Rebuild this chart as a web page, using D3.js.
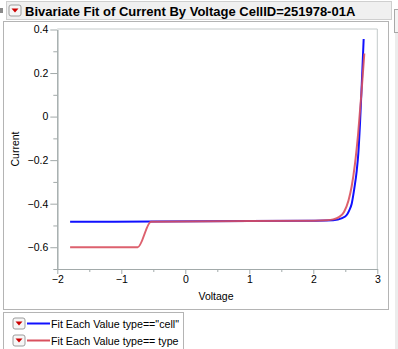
<!DOCTYPE html>
<html><head><meta charset="utf-8">
<script src="https://cdn.jsdelivr.net/npm/d3@7"></script>
<style>
html,body{margin:0;padding:0;background:#fff;overflow:hidden;}
svg{display:block;}
text{font-family:"Liberation Sans",Arial,sans-serif;}
</style></head>
<body>
<svg id="c" width="398" height="349"></svg>
<script>
const title = "Bivariate Fit of Current By Voltage CellID=251978-01A";
const xLabel = "Voltage";
const yLabel = "Current";
const xTicks = [-2, -1, 0, 1, 2, 3];
const xMinorTicks = [-1.5, -0.5, 0.5, 1.5, 2.5];
const yTicks = [-0.6, -0.4, -0.2, 0, 0.2, 0.4];
const yMinorTicks = [-0.7, -0.5, -0.3, -0.1, 0.1, 0.3];
const seriesNames = ['Fit Each Value type=="cell"', 'Fit Each Value type== type'];
const seriesColors = ["#1010ff", "#d9505e"];
// Fit curves: [voltage, current]
const cellFit = [[-1.8,-0.483],[-0.5,-0.482],[1,-0.480],[2,-0.478],[2.31,-0.476],[2.45,-0.466],[2.522,-0.452],[2.56,-0.432],[2.6,-0.400],[2.641,-0.330],[2.678,-0.250],[2.703,-0.171],[2.73,-0.030],[2.756,0.140],[2.787,0.356]];
const typeFit = [[-1.8,-0.600],[-0.744,-0.600],[-0.536,-0.483],[1,-0.480],[2,-0.478],[2.2,-0.476],[2.31,-0.472],[2.4,-0.462],[2.48,-0.438],[2.55,-0.385],[2.6,-0.320],[2.65,-0.220],[2.7,-0.080],[2.75,0.100],[2.797,0.290]];

const svg = d3.select("#c");

// scrollbar-ish strip on the right
svg.append("rect").attr("x",395).attr("y",33).attr("width",4).attr("height",320).attr("fill","#ececec");
svg.append("rect").attr("x",394.5).attr("y",9.5).attr("width",5).attr("height",23).attr("fill","#f4f4f4").attr("stroke","#a8a8a8");
// small glyph at far left
svg.append("rect").attr("x",0).attr("y",8).attr("width",3).attr("height",5).attr("fill","#8a8a8a");

// title bar
svg.append("rect").attr("x",6.5).attr("y",1.5).attr("width",385).attr("height",18).attr("fill","#f0f0f0").attr("stroke","#cfcfcf");

function button(x, y) {
  const g = svg.append("g").attr("transform", `translate(${x},${y})`);
  g.append("rect").attr("x",0.5).attr("y",0.5).attr("width",12).attr("height",11).attr("rx",2)
    .attr("fill","#f6f6f6").attr("stroke","#9c9c9c");
  g.append("path").attr("d","M3,4 L10,4 L6.5,8 Z").attr("fill","#cc0000");
}
button(8.5, 4.5);
svg.append("text").attr("x",25).attr("y",15.5).attr("font-size",13).attr("font-weight","bold").attr("fill","#000").text(title);

// outer panel
svg.append("rect").attr("x",3.5).attr("y",21.5).attr("width",385).attr("height",288).attr("fill","#fff").attr("stroke","#b4b4b4");

// scales
const x = d3.scaleLinear().domain([-2, 3]).range([57.3, 377.3]);
const y = d3.scaleLinear().domain([-0.7, 0.4]).range([269, 29.5]);

// frame top/right
svg.append("path").attr("d",`M${x(-2)},${y(0.4)-0.5}H${x(3)}V${y(-0.7)}`).attr("fill","none").attr("stroke","#c4caca");

const axisColor = "#a2aaaa";
function styleAxis(g) {
  g.select(".domain").attr("stroke", axisColor);
  g.selectAll(".tick line").attr("stroke", axisColor);
  g.selectAll(".tick text").attr("fill","#000").attr("font-size",10.5).attr("font-family",'"Liberation Sans",Arial,sans-serif');
}
// minor axes
const gxm = svg.append("g").attr("transform",`translate(0,${y(-0.7)})`)
  .call(d3.axisBottom(x).tickValues(xMinorTicks).tickSize(3).tickFormat("").tickSizeOuter(0));
styleAxis(gxm);
const gym = svg.append("g").attr("transform",`translate(${x(-2)},0)`)
  .call(d3.axisLeft(y).tickValues(yMinorTicks).tickSize(4).tickFormat("").tickSizeOuter(0));
styleAxis(gym);
// major axes
const gx = svg.append("g").attr("transform",`translate(0,${y(-0.7)})`)
  .call(d3.axisBottom(x).tickValues(xTicks).tickSize(5).tickPadding(2).tickSizeOuter(0).tickFormat(d3.format("d")));
styleAxis(gx);
const gy = svg.append("g").attr("transform",`translate(${x(-2)},0)`)
  .call(d3.axisLeft(y).tickValues(yTicks).tickSize(7).tickPadding(2).tickSizeOuter(0).tickFormat(d => d === 0 ? "0" : d3.format(".1f")(d)));
styleAxis(gy);

svg.append("text").attr("x",216).attr("y",300).attr("text-anchor","middle").attr("font-size",10.5).attr("fill","#000").text(xLabel);
svg.append("text").attr("transform","translate(19,149) rotate(-90)").attr("text-anchor","middle").attr("font-size",10.5).attr("fill","#000").text(yLabel);

// lines
const line = d3.line().x(d => x(d[0])).y(d => y(d[1])).curve(d3.curveMonotoneX);
svg.append("path").datum(cellFit).attr("d",line).attr("fill","none").attr("stroke",seriesColors[0]).attr("stroke-width",2);
svg.append("path").datum(typeFit).attr("d",line).attr("fill","none").attr("stroke",seriesColors[1]).attr("stroke-width",2).attr("stroke-opacity",0.9);

// legend
svg.append("rect").attr("x",3.5).attr("y",312.5).attr("width",180).attr("height",40).attr("fill","#fff").attr("stroke","#b4b4b4");
seriesNames.forEach((name, i) => {
  const yy = 318 + i * 17;
  button(12.5, yy - 0.5);
  svg.append("line").attr("x1",27).attr("x2",50).attr("y1",yy+5.5).attr("y2",yy+5.5).attr("stroke",seriesColors[i]).attr("stroke-width",2);
  svg.append("text").attr("x",51).attr("y",yy+9.5).attr("font-size",10.7).attr("fill","#000").text(name);
});
</script>
</body></html>
